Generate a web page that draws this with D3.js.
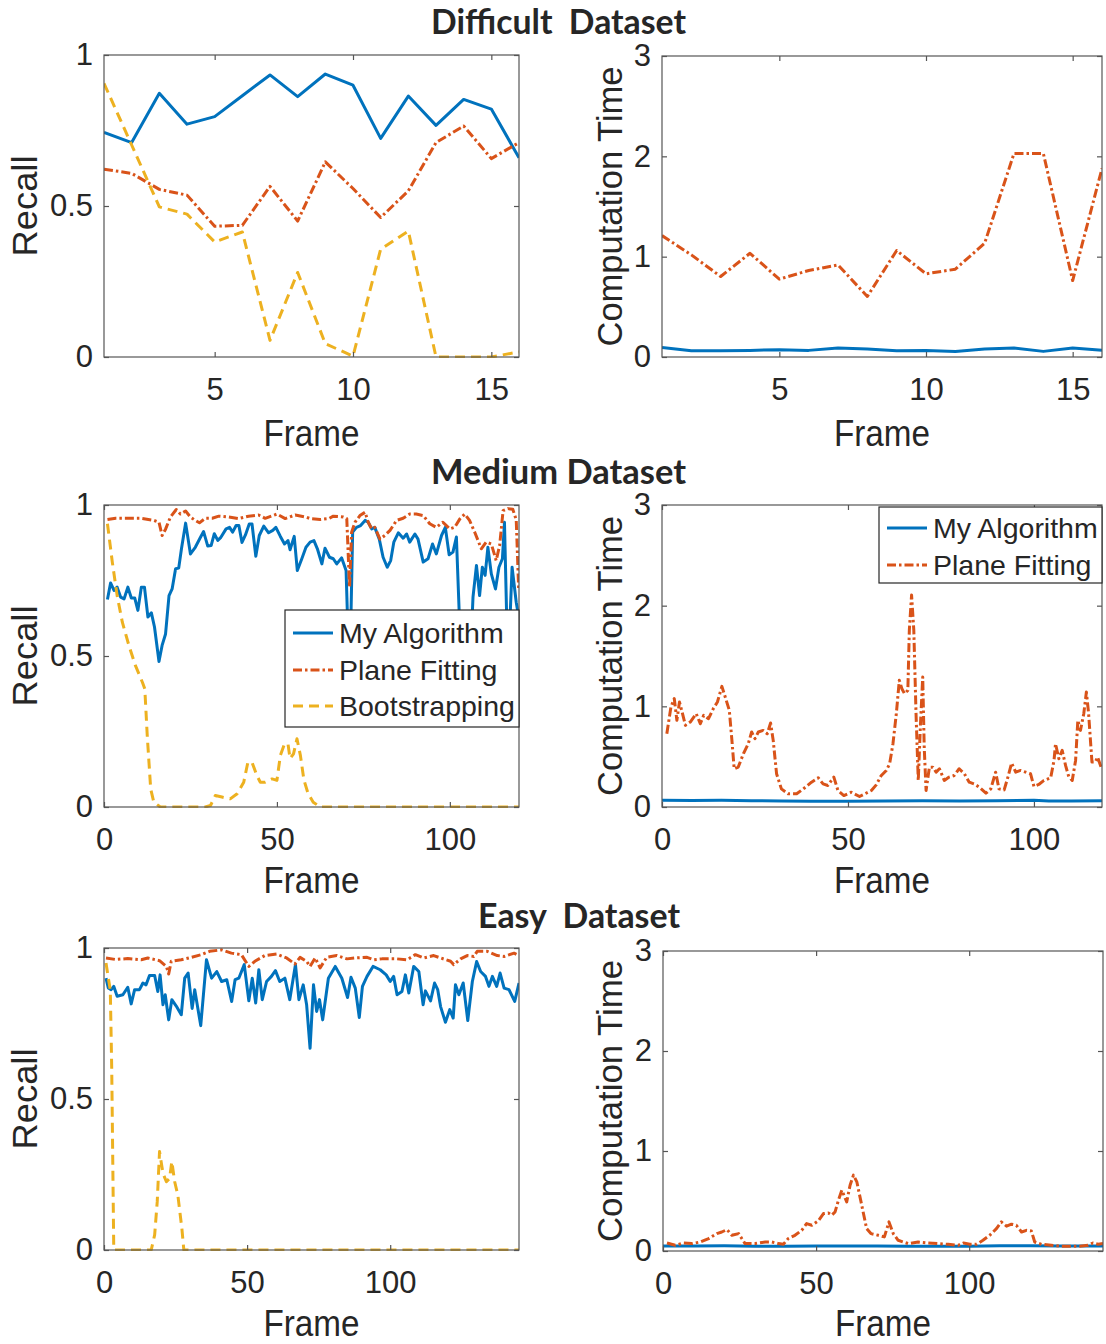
<!DOCTYPE html>
<html>
<head>
<meta charset="utf-8">
<script src="https://cdn.jsdelivr.net/npm/d3@7"></script>
<style>
body { margin: 0; background: #fff; }
text { font-family: "Liberation Sans", Arial, sans-serif; fill: #262626; }
</style>
</head>
<body>
<svg id="chart" width="1106" height="1344"></svg>
<script>
// ---------- data ----------
var seriesNames = ["My Algorithm", "Plane Fitting", "Bootstrapping"];

// Difficult dataset (frames 1..16)
var diffFrames = [1, 2, 3, 4, 5, 6, 7, 8, 9, 10, 11, 12, 13, 14, 15, 16];
var diffRecallAlgo = [0.744, 0.710, 0.873, 0.771, 0.796, 0.865, 0.934, 0.862, 0.937, 0.900, 0.724, 0.864, 0.767, 0.853, 0.821, 0.660];
var diffRecallPlane = [0.622, 0.608, 0.555, 0.536, 0.433, 0.436, 0.565, 0.450, 0.646, 0.558, 0.462, 0.550, 0.710, 0.765, 0.657, 0.710];
var diffRecallBoot = [0.906, 0.702, 0.497, 0.473, 0.381, 0.414, 0.055, 0.280, 0.044, 0.003, 0.357, 0.417, 0, 0, 0, 0.017];
var diffTimeAlgo = [0.096, 0.063, 0.063, 0.066, 0.073, 0.066, 0.090, 0.080, 0.063, 0.066, 0.056, 0.080, 0.090, 0.056, 0.090, 0.066];
var diffTimePlane = [1.21, 1.018, 0.802, 1.034, 0.776, 0.862, 0.918, 0.603, 1.061, 0.829, 0.875, 1.134, 2.029, 2.029, 0.762, 1.879];

// Medium dataset, [frame, value]
var medRecallAlgo = [[1,0.687],[1.9,0.742],[2.9,0.717],[3.8,0.728],[4.8,0.695],[5.8,0.689],[6.9,0.728],[7.9,0.692],[8.9,0.692],[9.8,0.651],[10.8,0.728],[11.7,0.728],[12.7,0.629],[13.7,0.643],[14.6,0.596],[15.9,0.482],[16.8,0.535],[17.8,0.573],[18.8,0.70],[19.7,0.722],[20.7,0.789],[21.6,0.791],[22.4,0.855],[23.6,0.94],[25,0.838],[26.4,0.86],[27.9,0.893],[28.8,0.912],[30,0.864],[31,0.866],[31.9,0.905],[32.9,0.883],[33.8,0.893],[35.3,0.921],[36.3,0.926],[37.2,0.91],[38.2,0.932],[39,0.932],[39.9,0.876],[40.9,0.901],[42,0.937],[42.8,0.937],[43.9,0.83],[44.9,0.899],[46.2,0.93],[47.6,0.908],[48.8,0.916],[49.7,0.926],[51,0.896],[52.2,0.871],[53.2,0.882],[53.8,0.852],[55,0.896],[55.9,0.783],[57.2,0.822],[58.4,0.86],[59.6,0.877],[60.7,0.882],[61.7,0.855],[63,0.805],[63.9,0.857],[65.2,0.827],[66.3,0.822],[67.3,0.805],[68.7,0.825],[70,0.783],[71,0.40],[71.9,0.91],[73,0.926],[74.2,0.932],[75.5,0.949],[76.4,0.943],[77.4,0.921],[78.3,0.926],[79.6,0.887],[80.7,0.827],[81.9,0.794],[82.9,0.816],[83.8,0.877],[85.1,0.908],[86.5,0.89],[87.5,0.904],[88.4,0.877],[89.9,0.904],[90.8,0.887],[92.3,0.811],[93.7,0.822],[95,0.871],[96.1,0.838],[97.6,0.899],[98.7,0.926],[99.8,0.835],[100.9,0.844],[101.9,0.894],[103.5,0.40],[105.6,0.40],[106.7,0.695],[107.7,0.8],[108.6,0.70],[109.4,0.794],[110.2,0.767],[111,0.86],[112,0.772],[113.2,0.722],[114.2,0.794],[115.2,0.822],[115.8,0.943],[116.8,0.45],[118,0.794],[119.2,0.678],[119.9,0.629]];
var medRecallPlane = [[1,0.952],[3.4,0.956],[7.2,0.956],[10.6,0.956],[14.4,0.949],[15.9,0.943],[16.8,0.899],[17.8,0.92],[19.2,0.96],[20.9,0.985],[22.1,0.97],[23.6,0.98],[25,0.96],[26.4,0.949],[27.6,0.941],[29.3,0.956],[31.3,0.956],[33.2,0.963],[36.1,0.96],[38.9,0.955],[41.8,0.963],[44.7,0.967],[46.6,0.956],[50,0.97],[52.4,0.955],[55.3,0.967],[58.4,0.96],[59.6,0.955],[62.5,0.952],[65,0.955],[66.3,0.963],[69.2,0.96],[70.2,0.955],[71,0.728],[71.6,0.91],[72.6,0.943],[74,0.965],[75.5,0.976],[76.4,0.943],[77.4,0.921],[78.3,0.926],[79.8,0.887],[81.2,0.899],[82.7,0.916],[84.6,0.949],[86.5,0.956],[88.4,0.97],[90.3,0.97],[92.3,0.965],[94.2,0.938],[96.1,0.926],[98,0.943],[100,0.921],[101.4,0.926],[102.9,0.954],[104.3,0.97],[105.7,0.949],[107.2,0.91],[109.1,0.855],[110.5,0.877],[112,0.871],[113.4,0.816],[114.4,0.866],[115.4,0.981],[116.8,0.988],[118.2,0.986],[119.2,0.951],[119.9,0.723]];
var medRecallBoot = [[1,0.938],[2.4,0.811],[3.8,0.70],[5.3,0.612],[7.2,0.535],[9.1,0.468],[11.1,0.413],[11.8,0.391],[12.5,0.237],[13.5,0.06],[14.4,0.016],[16.3,0],[29.3,0],[30.8,0.005],[32.2,0.038],[34.1,0.033],[36.5,0.027],[38.5,0.044],[40.4,0.082],[41.6,0.148],[42.8,0.148],[44.2,0.104],[45.2,0.082],[46.6,0.082],[48.6,0.093],[50,0.088],[51,0.171],[52.2,0.209],[53.2,0.209],[53.8,0.16],[54.8,0.176],[55.8,0.226],[56.8,0.17],[57.8,0.09],[59,0.045],[60.5,0.016],[62.5,0],[120,0]];
var medTimeAlgo = [[0,0.066],[8,0.064],[16,0.066],[24,0.062],[32,0.06],[40,0.058],[50,0.058],[60,0.06],[70,0.062],[80,0.06],[90,0.062],[100,0.066],[104,0.06],[110,0.06],[118.3,0.063]];
var medTimePlane = [[1.3,0.728],[2.4,0.993],[3.3,1.077],[4,0.861],[4.7,1.043],[5.4,0.944],[6.3,0.811],[7.6,0.844],[9.2,0.927],[10.3,0.827],[11.2,0.91],[12.5,0.877],[13.8,0.977],[14.9,1.043],[16.1,1.198],[17,1.093],[18.1,0.96],[18.8,0.662],[19.4,0.38],[20.5,0.397],[21.9,0.53],[23.2,0.629],[24.1,0.745],[25,0.679],[25.9,0.745],[27.2,0.761],[28.3,0.728],[29.2,0.834],[29.9,0.662],[30.8,0.331],[32.1,0.18],[33.9,0.131],[36.2,0.131],[38,0.18],[40.2,0.247],[42,0.29],[43.3,0.23],[44.6,0.214],[46.2,0.297],[47.3,0.164],[48.9,0.114],[50.9,0.147],[53.1,0.104],[55.4,0.147],[56.3,0.164],[57.6,0.22],[58.9,0.31],[60.3,0.363],[61.2,0.429],[62.1,0.629],[63,0.927],[63.8,1.258],[64.5,1.175],[65.2,1.126],[66.1,1.159],[66.5,1.757],[67.1,2.105],[67.7,1.757],[68.3,0.927],[68.9,0.264],[69.5,0.827],[70.1,1.291],[70.5,0.595],[71,0.164],[71.9,0.396],[72.8,0.396],[73.7,0.346],[74.6,0.38],[75.9,0.264],[77.2,0.297],[78.6,0.313],[79.9,0.38],[81.3,0.33],[82.6,0.247],[83.9,0.23],[85.3,0.197],[87.1,0.137],[88.4,0.18],[89.7,0.346],[90.6,0.18],[92,0.17],[93,0.297],[94,0.436],[95.1,0.346],[96.4,0.363],[97.8,0.346],[99.1,0.33],[100,0.204],[101.3,0.224],[102.7,0.264],[104.5,0.29],[105.4,0.463],[105.8,0.629],[106.7,0.48],[107.6,0.563],[108.5,0.413],[109.4,0.297],[110.3,0.264],[111.2,0.463],[111.8,0.861],[112.5,0.761],[113.4,0.927],[114.1,1.142],[114.7,0.927],[115.6,0.446],[116.5,0.446],[117.1,0.496],[118.3,0.37]];

// Easy dataset, [frame, value]
var easyRecallAlgo = [[0.7,0.90],[1.5,0.868],[2.5,0.862],[3.4,0.873],[4.6,0.84],[6.6,0.845],[8.3,0.87],[9.5,0.815],[10.7,0.862],[12.4,0.862],[13.6,0.884],[14.7,0.878],[15.9,0.909],[17.7,0.909],[18.8,0.856],[19.6,0.911],[20.6,0.812],[21.4,0.845],[22.6,0.762],[23.7,0.829],[25.3,0.807],[27,0.779],[28.2,0.90],[29.4,0.917],[30.8,0.8],[31.7,0.862],[33.8,0.743],[35.8,0.961],[37.6,0.90],[39.4,0.922],[41.1,0.889],[42.9,0.895],[44.6,0.823],[45.8,0.895],[47.1,0.90],[49,0.945],[50.6,0.825],[51.8,0.90],[53,0.818],[54.1,0.928],[55.3,0.829],[56.8,0.889],[58.5,0.906],[59.9,0.925],[61.4,0.889],[63.2,0.90],[64.9,0.829],[66.9,0.945],[68.1,0.829],[69.6,0.878],[70.8,0.812],[72,0.668],[73.2,0.878],[74.3,0.79],[75.3,0.829],[76.4,0.762],[78.4,0.90],[80.8,0.939],[83.1,0.90],[85.1,0.836],[86.3,0.903],[87.8,0.867],[89.2,0.77],[90.3,0.873],[91.9,0.906],[94,0.939],[96.5,0.928],[98.6,0.911],[100,0.889],[101.2,0.906],[102.4,0.845],[104.1,0.856],[105.3,0.911],[106.5,0.851],[108.2,0.939],[110,0.922],[111.5,0.812],[112.3,0.858],[114.1,0.825],[115.5,0.884],[116.6,0.862],[117.6,0.806],[119.3,0.754],[120.8,0.796],[122,0.768],[122.8,0.878],[124,0.845],[125.5,0.884],[127.1,0.76],[128.7,0.889],[130.2,0.955],[131.6,0.922],[133.3,0.906],[134.5,0.873],[135.7,0.906],[137.2,0.873],[138.4,0.917],[139.8,0.867],[141.5,0.862],[143.5,0.823],[145,0.884]];
var easyRecallPlane = [[0.7,0.967],[4,0.962],[8.3,0.965],[13,0.961],[15.3,0.967],[19.4,0.958],[21.8,0.939],[22.6,0.914],[23.5,0.956],[27,0.961],[30.5,0.969],[34,0.978],[36.9,0.989],[41.1,0.994],[44.5,0.983],[48,0.978],[50.6,0.939],[52.7,0.956],[56.2,0.975],[60.3,0.98],[63.8,0.967],[66.7,0.947],[68.5,0.969],[70.8,0.956],[72,0.939],[73.8,0.967],[75.5,0.934],[77.8,0.969],[81.3,0.975],[84.9,0.964],[87.8,0.967],[91.9,0.969],[94.2,0.961],[97.1,0.964],[102.4,0.964],[105.9,0.961],[108.8,0.978],[111.7,0.967],[115.2,0.975],[117.6,0.967],[121.1,0.956],[122.2,0.945],[124.6,0.964],[126.9,0.975],[129.2,0.972],[130.4,0.989],[133.9,0.989],[137.4,0.975],[139.8,0.972],[143.3,0.983],[145,0.975]];
var easyRecallBoot = [[0.7,0.95],[2.2,0.86],[2.7,0.6],[3.4,0.01],[3.6,0],[16.5,0],[17.7,0.05],[18.6,0.16],[19.4,0.326],[20.6,0.254],[21.8,0.226],[22.9,0.237],[23.7,0.293],[24.7,0.226],[25.8,0.182],[27.2,0.072],[27.9,0],[145,0]];
var easyTimeAlgo = [[0,0.05],[10,0.05],[20,0.052],[30,0.048],[40,0.048],[50,0.05],[60,0.05],[70,0.05],[80,0.048],[90,0.048],[100,0.048],[110,0.052],[120,0.052],[130,0.05],[143.7,0.05]];
var easyTimePlane = [[1.3,0.08],[4,0.057],[6.7,0.08],[9.4,0.074],[12.2,0.09],[14.9,0.124],[17.6,0.174],[19.2,0.19],[20.9,0.214],[22.5,0.157],[24.7,0.174],[26.8,0.074],[30.1,0.074],[33.4,0.09],[35.5,0.09],[37.7,0.074],[39.3,0.067],[40.9,0.124],[43.1,0.157],[45.3,0.207],[46.9,0.274],[48.6,0.257],[50.7,0.301],[52.4,0.374],[54,0.381],[55.1,0.358],[56.2,0.391],[57.3,0.508],[58.4,0.608],[60,0.491],[61.1,0.658],[62.2,0.759],[63.3,0.692],[64.9,0.458],[66.5,0.224],[67.9,0.174],[70.3,0.157],[72.3,0.141],[73.8,0.291],[75.2,0.174],[76.8,0.107],[80.1,0.074],[83.3,0.09],[86.6,0.08],[89.9,0.074],[93.1,0.067],[96.4,0.057],[98.1,0.08],[100.2,0.067],[102.4,0.067],[104.5,0.107],[106.7,0.157],[108.9,0.224],[110.5,0.291],[112.2,0.248],[113.8,0.268],[115.4,0.257],[117.1,0.19],[118.7,0.207],[120.3,0.2],[121.4,0.09],[123.6,0.067],[126.8,0.057],[130.1,0.047],[133.4,0.047],[136.1,0.047],[138.8,0.057],[140.4,0.08],[142.1,0.067],[143.7,0.074]];

var recallTicks = [0, 0.5, 1];
var timeTicks = [0, 1, 2, 3];

// ---------- drawing ----------
var colors = ["#0072BD", "#D95319", "#EDB120"];
var dashes = [null, "9,3,2.5,3", "10,6"];

var svg = d3.select("#chart");
svg.append("rect").attr("width", 1106).attr("height", 1344).attr("fill", "#fff");

function zipFrames(frames, values)
{
    return frames.map(function(f, i) { return [f, values[i]]; });
}

var clipId = 0;

function drawPanel(p)
{
    var x = d3.scaleLinear().domain(p.xDomain).range([p.left, p.right]);
    var y = d3.scaleLinear().domain(p.yDomain).range([p.bottom, p.top]);
    var g = svg.append("g");

    clipId++;
    g.append("clipPath").attr("id", "clip" + clipId)
        .append("rect")
        .attr("x", p.left).attr("y", p.top - 1)
        .attr("width", p.right - p.left).attr("height", p.bottom - p.top + 2);

    var line = d3.line()
        .x(function(d) { return x(d[0]); })
        .y(function(d) { return y(d[1]); });

    var lines = g.append("g").attr("clip-path", "url(#clip" + clipId + ")");
    p.series.forEach(function(s) {
        lines.append("path")
            .attr("d", line(s.data))
            .attr("fill", "none")
            .attr("stroke", colors[s.idx])
            .attr("stroke-width", 3)
            .attr("stroke-linejoin", "round")
            .attr("stroke-dasharray", dashes[s.idx]);
    });

    // box
    g.append("rect")
        .attr("x", p.left).attr("y", p.top)
        .attr("width", p.right - p.left).attr("height", p.bottom - p.top)
        .attr("fill", "none").attr("stroke", "#555").attr("stroke-width", 1.2);

    var fmt = function(d) { return String(d); };
    var bottomAxis = g.append("g").attr("transform", "translate(0," + p.bottom + ")")
        .call(d3.axisBottom(x).tickValues(p.xTicks).tickFormat(fmt).tickSizeInner(-5).tickSizeOuter(0).tickPadding(21));
    var leftAxis = g.append("g").attr("transform", "translate(" + p.left + ",0)")
        .call(d3.axisLeft(y).tickValues(p.yTicks).tickFormat(fmt).tickSizeInner(-5).tickSizeOuter(0).tickPadding(11));
    var topAxis = g.append("g").attr("transform", "translate(0," + p.top + ")")
        .call(d3.axisTop(x).tickValues(p.xTicks).tickFormat("").tickSizeInner(-5).tickSizeOuter(0));
    var rightAxis = g.append("g").attr("transform", "translate(" + p.right + ",0)")
        .call(d3.axisRight(y).tickValues(p.yTicks).tickFormat("").tickSizeInner(-5).tickSizeOuter(0));

    [bottomAxis, leftAxis, topAxis, rightAxis].forEach(function(a) {
        a.select(".domain").remove();
        a.selectAll(".tick line").attr("stroke", "#555").attr("stroke-width", 1.2);
        a.selectAll("text")
            .style("font-family", "'Liberation Sans', Arial, sans-serif")
            .style("font-size", "31px")
            .attr("fill", "#262626");
    });

    // axis labels
    g.append("text")
        .attr("transform", "translate(" + ((p.left + p.right) / 2) + "," + p.frameY + ")")
        .attr("text-anchor", "middle")
        .style("font-size", "37px")
        .attr("textLength", 96).attr("lengthAdjust", "spacingAndGlyphs")
        .text("Frame");

    g.append("text")
        .attr("transform", "translate(" + p.yLabelX + "," + ((p.top + p.bottom) / 2) + ") rotate(-90)")
        .attr("text-anchor", "middle")
        .style("font-size", "35px")
        .attr("textLength", p.yLabelLen).attr("lengthAdjust", "spacingAndGlyphs")
        .text(p.yLabel);

    if (p.legend) drawLegend(g, p.legend);
}

function drawLegend(g, L)
{
    g.append("rect")
        .attr("x", L.x0).attr("y", L.y0)
        .attr("width", L.x1 - L.x0).attr("height", L.y1 - L.y0)
        .attr("fill", "#fff").attr("stroke", "#262626").attr("stroke-width", 1.2);
    L.rows.forEach(function(rowY, i) {
        g.append("line")
            .attr("x1", L.x0 + 8).attr("x2", L.x0 + 48)
            .attr("y1", rowY).attr("y2", rowY)
            .attr("stroke", colors[i]).attr("stroke-width", 3)
            .attr("stroke-dasharray", dashes[i]);
        g.append("text")
            .attr("x", L.x0 + 54).attr("y", rowY)
            .attr("dy", "0.36em")
            .style("font-size", "28.5px")
            .attr("fill", "#000")
            .text(seriesNames[i]);
    });
}

function drawTitle(label, x0, width, baseY)
{
    svg.append("text")
        .attr("x", x0).attr("y", baseY)
        .style("font-family", "Lato, 'Open Sans', sans-serif")
        .style("font-weight", "bold")
        .style("font-size", "35px")
        .attr("fill", "#000")
        .attr("textLength", width).attr("lengthAdjust", "spacingAndGlyphs")
        .style("white-space", "pre")
        .text(label);
}

var L = { left: 104, right: 519 };
var R = { left: 662, right: 1102 };

// Difficult
drawTitle("Difficult  Dataset", 431, 255, 34);
drawPanel({
    left: L.left, right: L.right, top: 55, bottom: 357,
    xDomain: [1, 16], xTicks: [5, 10, 15], yDomain: [0, 1], yTicks: recallTicks,
    yLabel: "Recall", yLabelX: 37, yLabelLen: 101, frameY: 446,
    series: [
        { idx: 0, data: zipFrames(diffFrames, diffRecallAlgo) },
        { idx: 1, data: zipFrames(diffFrames, diffRecallPlane) },
        { idx: 2, data: zipFrames(diffFrames, diffRecallBoot) }
    ]
});
drawPanel({
    left: R.left, right: R.right, top: 56, bottom: 357,
    xDomain: [1, 16], xTicks: [5, 10, 15], yDomain: [0, 3], yTicks: timeTicks,
    yLabel: "Computation Time", yLabelX: 622, yLabelLen: 280, frameY: 446,
    series: [
        { idx: 0, data: zipFrames(diffFrames, diffTimeAlgo) },
        { idx: 1, data: zipFrames(diffFrames, diffTimePlane) }
    ]
});

// Medium
drawTitle("Medium Dataset", 431, 255, 484);
drawPanel({
    left: L.left, right: L.right, top: 505, bottom: 807,
    xDomain: [0, 120], xTicks: [0, 50, 100], yDomain: [0, 1], yTicks: recallTicks,
    yLabel: "Recall", yLabelX: 37, yLabelLen: 101, frameY: 893,
    series: [
        { idx: 0, data: medRecallAlgo },
        { idx: 1, data: medRecallPlane },
        { idx: 2, data: medRecallBoot }
    ],
    legend: { x0: 285, x1: 519, y0: 610, y1: 727, rows: [633, 670, 706] }
});
drawPanel({
    left: R.left, right: R.right, top: 505, bottom: 807,
    xDomain: [0, 118.3], xTicks: [0, 50, 100], yDomain: [0, 3], yTicks: timeTicks,
    yLabel: "Computation Time", yLabelX: 622, yLabelLen: 280, frameY: 893,
    series: [
        { idx: 0, data: medTimeAlgo },
        { idx: 1, data: medTimePlane }
    ],
    legend: { x0: 879, x1: 1102, y0: 507, y1: 583, rows: [528, 565] }
});

// Easy
drawTitle("Easy  Dataset", 478, 202, 928);
drawPanel({
    left: L.left, right: L.right, top: 948, bottom: 1250,
    xDomain: [0, 145], xTicks: [0, 50, 100], yDomain: [0, 1], yTicks: recallTicks,
    yLabel: "Recall", yLabelX: 37, yLabelLen: 101, frameY: 1336,
    series: [
        { idx: 0, data: easyRecallAlgo },
        { idx: 1, data: easyRecallPlane },
        { idx: 2, data: easyRecallBoot }
    ]
});
drawPanel({
    left: 663, right: 1103, top: 951, bottom: 1251,
    xDomain: [0, 143.7], xTicks: [0, 50, 100], yDomain: [0, 3], yTicks: timeTicks,
    yLabel: "Computation Time", yLabelX: 622, yLabelLen: 282, frameY: 1336,
    series: [
        { idx: 0, data: easyTimeAlgo },
        { idx: 1, data: easyTimePlane }
    ]
});
</script>
</body>
</html>
